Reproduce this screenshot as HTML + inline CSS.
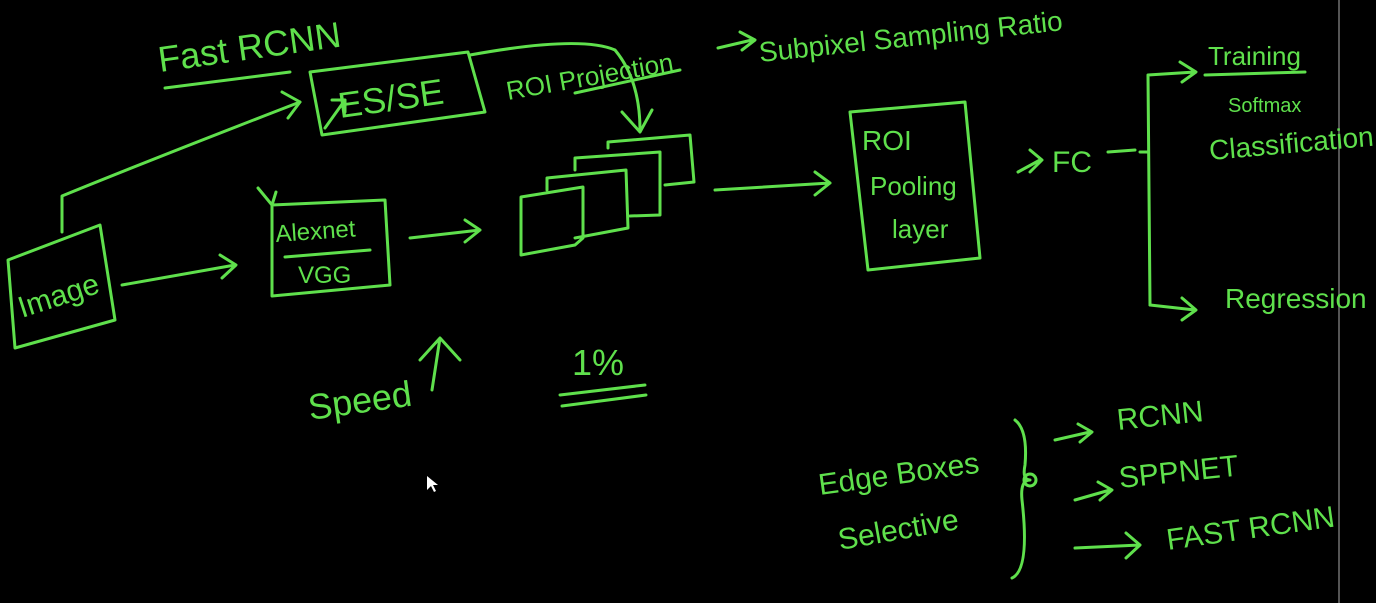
<!DOCTYPE html>
<html><head><style>
html,body{margin:0;padding:0;background:#000;}
svg{display:block;}
text{font-family:"Liberation Sans",sans-serif;fill:#5fe04c;}
</style></head><body>
<svg width="1376" height="603" viewBox="0 0 1376 603" xmlns="http://www.w3.org/2000/svg">
<rect width="1376" height="603" fill="#000"/>
<line x1="1339" y1="0" x2="1339" y2="603" stroke="#555" stroke-width="2"/>
<g stroke="#5fe04c" stroke-width="3" fill="none" stroke-linecap="round" stroke-linejoin="round">
<!-- Fast RCNN underline -->
<path d="M165 88 L290 72"/>
<!-- ES/SE box -->
<path d="M310 72 L468 52 L485 112 L322 135 Z"/>
<!-- image up arrow to ES/SE -->
<path d="M62 232 L62 196 Q150 160 300 102"/>
<path d="M282 92 L300 102 L288 118"/>
<path d="M325 128 L345 100 M332 100 L345 100 L345 112"/>
<!-- line ES/SE to features -->
<path d="M470 55 Q580 35 615 50 Q640 80 640 130"/>
<path d="M622 112 L640 132 L652 110"/>
<!-- ROI Projection underline -->
<path d="M575 93 L680 70"/>
<!-- -> subpixel arrow -->
<path d="M718 48 L752 40 M740 32 L755 40 L742 50"/>
<!-- Image box -->
<path d="M8 260 L100 225 L115 320 L15 348 Z"/>
<path d="M122 285 L235 265 M220 255 L236 265 L222 278"/>
<!-- Alexnet box -->
<path d="M272 205 L385 200 L390 285 L272 296 Z"/>
<path d="M258 188 L272 205 L276 192"/>
<path d="M285 257 L370 250"/>
<path d="M410 238 L480 230 M465 220 L480 230 L465 242"/>
<!-- feature maps -->
<path d="M521 255 L521 197 L583 187 L583 238 L575 245 L521 255"/>
<path d="M547 190 L547 178 L626 170 L628 228 L575 238"/>
<path d="M575 170 L575 158 L660 152 L660 215 L630 216"/>
<path d="M608 148 L608 142 L690 135 L694 182 L665 185"/>
<path d="M715 190 L830 183 M815 172 L830 183 L815 195"/>
<!-- ROI pooling box -->
<path d="M850 112 L965 102 L980 258 L868 270 Z"/>
<!-- FC arrows -->
<path d="M1018 172 L1040 160 M1030 150 L1042 160 L1030 172"/>
<path d="M1108 152 L1135 150"/>
<path d="M1140 152 L1148 152 M1148 75 L1150 305 M1148 75 L1195 72 M1180 62 L1196 72 L1182 82"/>
<path d="M1150 305 L1195 310 M1182 298 L1196 310 L1182 320"/>
<path d="M1205 75 L1305 72"/>
<!-- Speed arrow -->
<path d="M432 390 L440 338 L460 360 M440 338 L420 360"/>
<!-- 1% underline -->
<path d="M560 395 L645 385 M562 406 L646 395"/>
<!-- brace -->
<path d="M1015 420 Q1028 430 1025 465 Q1022 480 1030 480 Q1020 480 1022 500 Q1030 570 1012 578"/>
<circle cx="1030" cy="480" r="6"/>
<path d="M1055 440 L1090 432 M1078 424 L1092 432 L1080 442"/>
<path d="M1075 500 L1110 490 M1098 482 L1112 490 L1100 500"/>
<path d="M1075 548 L1140 545 M1126 533 L1140 545 L1126 558"/>
</g>
<g>
<text x="160" y="72" font-size="36" transform="rotate(-8 160 72)">Fast RCNN</text>
<text x="340" y="118" font-size="36" transform="rotate(-8 340 118)">ES/SE</text>
<text x="508" y="100" font-size="26" transform="rotate(-10 508 100)">ROI Projection</text>
<text x="760" y="62" font-size="28" transform="rotate(-6 760 62)">Subpixel Sampling Ratio</text>
<text x="22" y="318" font-size="30" transform="rotate(-18 22 318)">Image</text>
<text x="276" y="242" font-size="24" transform="rotate(-4 276 242)">Alexnet</text>
<text x="298" y="283" font-size="24">VGG</text>
<text x="862" y="150" font-size="28">ROI</text>
<text x="870" y="195" font-size="26">Pooling</text>
<text x="892" y="238" font-size="26">layer</text>
<text x="1052" y="172" font-size="30">FC</text>
<text x="1208" y="65" font-size="26">Training</text>
<text x="1228" y="112" font-size="20">Softmax</text>
<text x="1210" y="160" font-size="28" transform="rotate(-5 1210 160)">Classification</text>
<text x="1225" y="308" font-size="28">Regression</text>
<text x="310" y="420" font-size="36" transform="rotate(-8 310 420)">Speed</text>
<text x="572" y="375" font-size="36">1%</text>
<text x="820" y="495" font-size="30" transform="rotate(-8 820 495)">Edge Boxes</text>
<text x="840" y="550" font-size="30" transform="rotate(-10 840 550)">Selective</text>
<text x="1118" y="430" font-size="30" transform="rotate(-6 1118 430)">RCNN</text>
<text x="1120" y="488" font-size="30" transform="rotate(-6 1120 488)">SPPNET</text>
<text x="1168" y="550" font-size="30" transform="rotate(-8 1168 550)">FAST RCNN</text>
</g>
<path d="M427 476 L427 490 L431 486 L434 492 L436 491 L433 485 L438 485 Z" fill="#fff"/>
</svg>
</body></html>
